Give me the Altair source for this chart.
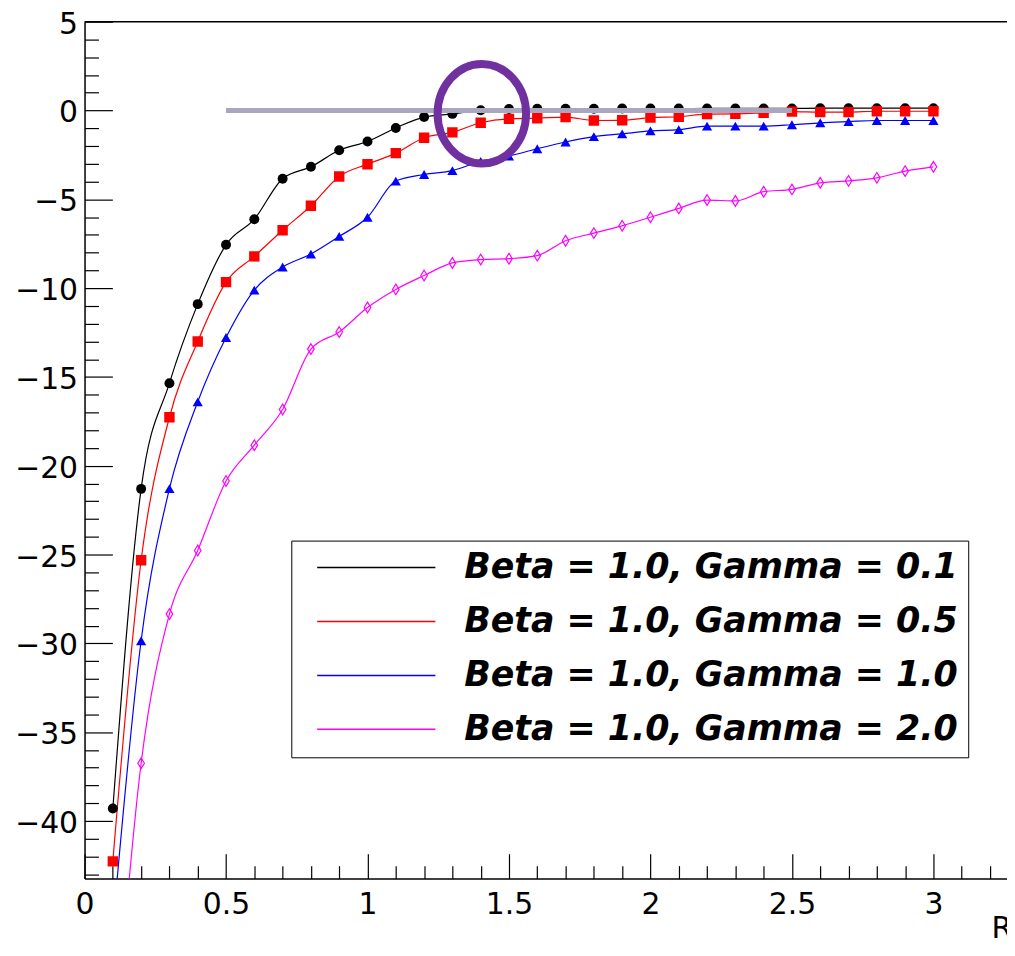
import altair as alt
import pandas as pd

# ---------------- data ----------------
x_r = [0.1, 0.2, 0.3, 0.4, 0.5, 0.6, 0.7, 0.8, 0.9, 1.0,
       1.1, 1.2, 1.3, 1.4, 1.5, 1.6, 1.7, 1.8, 1.9, 2.0,
       2.1, 2.2, 2.3, 2.4, 2.5, 2.6, 2.7, 2.8, 2.9, 3.0]

y_gamma01 = [-39.3, -21.3, -15.35, -10.9, -7.56, -6.12, -3.84, -3.17, -2.24, -1.74,
             -0.98, -0.37, -0.19, 0.02, 0.09, 0.1, 0.1, 0.1, 0.11, 0.11,
             0.11, 0.12, 0.12, 0.12, 0.12, 0.13, 0.13, 0.13, 0.13, 0.13]
y_gamma05 = [-42.27, -25.32, -17.27, -13.0, -9.66, -8.21, -6.74, -5.36, -3.71, -3.02,
             -2.4, -1.53, -1.23, -0.69, -0.47, -0.43, -0.37, -0.56, -0.55, -0.4,
             -0.35, -0.2, -0.19, -0.13, -0.06, -0.09, -0.09, -0.04, -0.04, -0.04]
y_gamma10 = [-46.0, -29.85, -21.29, -16.4, -12.78, -10.11, -8.81, -8.08, -7.09, -6.01,
             -3.97, -3.6, -3.38, -2.86, -2.56, -2.15, -1.77, -1.47, -1.31, -1.15,
             -1.08, -0.88, -0.88, -0.88, -0.8, -0.69, -0.62, -0.56, -0.56, -0.56]
y_gamma20 = [-54.0, -36.75, -28.35, -24.77, -20.86, -18.84, -16.83, -13.43, -12.47, -11.09,
             -10.07, -9.29, -8.58, -8.39, -8.34, -8.17, -7.33, -6.9, -6.49, -6.01,
             -5.51, -5.04, -5.09, -4.57, -4.44, -4.07, -3.96, -3.79, -3.41, -3.17]

series_labels = ["Beta = 1.0, Gamma = 0.1", "Beta = 1.0, Gamma = 0.5",
                 "Beta = 1.0, Gamma = 1.0", "Beta = 1.0, Gamma = 2.0"]
series_colors = ["#000000", "#ff0000", "#0000ff", "#ff00ff"]

x_major_ticks = [0, 0.5, 1, 1.5, 2, 2.5, 3]
x_minor_ticks = [0.1, 0.2, 0.3, 0.4, 0.6, 0.7, 0.8, 0.9, 1.1, 1.2, 1.3, 1.4,
                 1.6, 1.7, 1.8, 1.9, 2.1, 2.2, 2.3, 2.4, 2.6, 2.7, 2.8, 2.9, 3.1, 3.2]
y_major_ticks = [-40, -35, -30, -25, -20, -15, -10, -5, 0, 5]
y_minor_ticks = [-43, -42, -41, -39, -38, -37, -36, -34, -33, -32, -31, -29, -28, -27,
                 -26, -24, -23, -22, -21, -19, -18, -17, -16, -14, -13, -12, -11, -9,
                 -8, -7, -6, -4, -3, -2, -1, 1, 2, 3, 4]

zero_bar_start = [0.5]
zero_bar_end = [2.5]
zero_bar_level = [0.0]
highlight_r = [1.404]
highlight_v = [-0.18]

# ---------------- tables ----------------
rows = []
for lab, ys in zip(series_labels, [y_gamma01, y_gamma05, y_gamma10, y_gamma20]):
    for xv, yv in zip(x_r, ys):
        rows.append({"r": xv, "v": yv, "series": lab})
df = pd.DataFrame(rows)
bar_df = pd.DataFrame({"r": zero_bar_start, "r2": zero_bar_end, "v": zero_bar_level})
circ_df = pd.DataFrame({"r": highlight_r, "v": highlight_v})

W, H = 928, 862
FONT = "DejaVu Sans"
xs = alt.Scale(domain=[0, 3.26], nice=False, zero=False)
ys = alt.Scale(domain=[-43.24, 5], nice=False, zero=False)

x_label_axis = alt.Axis(values=x_major_ticks, ticks=False, tickSize=0, domain=True,
                        domainColor="black", domainWidth=1.5, labelFont=FONT,
                        labelFontSize=30, labelColor="black", labelPadding=11,
                        labelFlush=False, labelOverlap=False, grid=False, format="~g",
                        title="R", titleFont=FONT, titleFontSize=30, titleFontWeight="normal",
                        titleColor="black", titleAnchor="start", titleAlign="left",
                        titleBaseline="alphabetic", titleX=912, titleY=59)
y_label_axis = alt.Axis(values=y_major_ticks, ticks=False, tickSize=0, domain=True,
                        domainColor="black", domainWidth=1.5, labelFont=FONT,
                        labelFontSize=30, labelColor="black", labelPadding=7,
                        labelOffset=2.5, labelFlush=False, labelOverlap=False,
                        grid=False, format="~g", title=None)


def tick_axis(orient, offset, values, size):
    return alt.Axis(orient=orient, offset=offset, values=values, ticks=True, tickSize=size,
                    tickWidth=1.2, tickColor="black", labels=False, domain=False,
                    grid=False, title=None)


# long flat stroke symbol: 119 px long line drawn with a small nominal size
legend_line = "M-6,0H6"
legend = alt.Legend(orient="none", legendX=208, legendY=522, title=None,
                    symbolType=legend_line, symbolSize=393, symbolStrokeWidth=1.5,
                    symbolOffset=58.5, labelOffset=71, labelFont=FONT, labelFontSize=35,
                    labelFontWeight="bold", labelFontStyle="italic", labelColor="black",
                    labelLimit=1000, padding=9.5, rowPadding=18.3, strokeColor="black",
                    fillColor="white")

lines = alt.Chart(df).mark_line(strokeWidth=1.2, interpolate="monotone", clip=True).encode(
    x=alt.X("r:Q", scale=xs, axis=x_label_axis),
    y=alt.Y("v:Q", scale=ys, axis=y_label_axis),
    color=alt.Color("series:N", scale=alt.Scale(domain=series_labels, range=series_colors),
                    legend=legend, sort=series_labels),
    detail="series:N",
)

diamond = "M0,-1L0.62,0L0,1L-0.62,0Z"
marker_specs = [
    (series_labels[0], "circle", True, 100, series_colors[0]),
    (series_labels[1], "square", True, 110, series_colors[1]),
    (series_labels[2], "triangle-up", True, 105, series_colors[2]),
    (series_labels[3], diamond, False, 115, series_colors[3]),
]
point_layers = []
for i, (lab, shp, filled, sz, col) in enumerate(marker_specs):
    if i == 0:
        xa = tick_axis("top", -H, x_major_ticks, 25)
        ya = tick_axis("right", -W, y_major_ticks, 28)
    elif i == 1:
        xa = tick_axis("top", -H, x_minor_ticks, 13)
        ya = tick_axis("right", -W, y_minor_ticks, 14)
    else:
        xa = None
        ya = None
    point_layers.append(
        alt.Chart(df).transform_filter(alt.datum.series == lab).mark_point(
            shape=shp, filled=filled, size=sz, color=col, opacity=1,
            strokeWidth=1.2, clip=True
        ).encode(
            x=alt.X("r:Q", scale=xs, axis=xa),
            y=alt.Y("v:Q", scale=ys, axis=ya),
        )
    )

bar = alt.Chart(bar_df).mark_rule(strokeWidth=5, color="#A9A6BF").encode(
    x=alt.X("r:Q", scale=xs, axis=None),
    x2="r2:Q",
    y=alt.Y("v:Q", scale=ys, axis=None),
)

ellipse = "M0,-1.124A1,1.124 0 1,1 0,1.124A1,1.124 0 1,1 0,-1.124Z"
circ = alt.Chart(circ_df).mark_point(shape=ellipse, size=7921, filled=False,
                                     color="#7030A0", strokeWidth=8, opacity=1).encode(
    x=alt.X("r:Q", scale=xs, axis=None),
    y=alt.Y("v:Q", scale=ys, axis=None),
)

top_frame = alt.Chart(circ_df).mark_rule(color="black", strokeWidth=1.5).encode(
    x=alt.value(0), x2=alt.value(W), y=alt.value(0)
)

chart = alt.layer(lines, *point_layers, bar, circ, top_frame).resolve_axis(
    x="independent", y="independent"
).properties(
    width=W, height=H,
    autosize=alt.AutoSizeParams(type="none"),
    padding={"left": 77, "top": 11, "right": 0, "bottom": 59},
    background="white",
).configure_view(stroke=None)

chart.save("out.html", embed_options={"renderer": "svg", "actions": False})
